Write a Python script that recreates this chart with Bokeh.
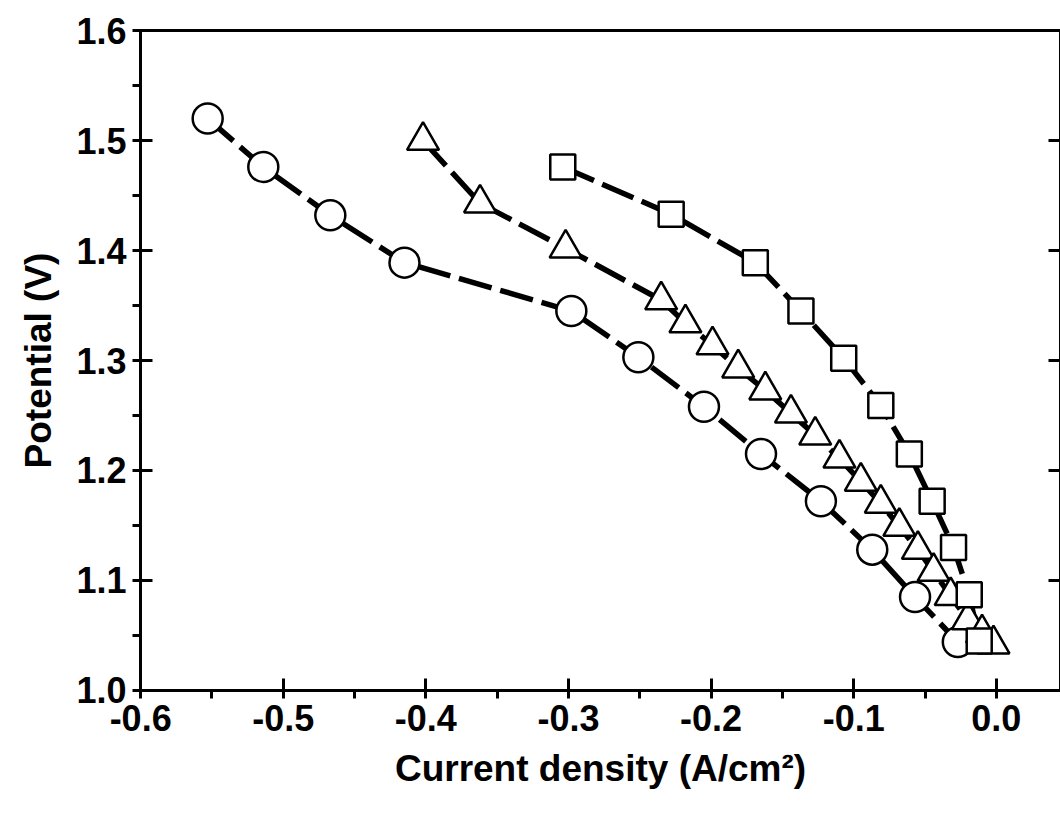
from bokeh.plotting import figure
from bokeh.models import LinearAxis, Range1d, SingleIntervalTicker, PrintfTickFormatter
from bokeh.embed import file_html
from bokeh.resources import INLINE

circ_x = [-0.553, -0.514, -0.467, -0.415, -0.298, -0.251, -0.205, -0.165, -0.123, -0.087, -0.057, -0.027]
circ_y = [1.520, 1.476, 1.432, 1.389, 1.345, 1.303, 1.258, 1.215, 1.172, 1.128, 1.085, 1.044]

tri_x = [-0.402, -0.362, -0.302, -0.235, -0.218, -0.199, -0.181, -0.162, -0.144, -0.127, -0.110,
         -0.095, -0.081, -0.068, -0.055, -0.044, -0.032, -0.020, -0.010, -0.002]
tri_y = [1.500, 1.443, 1.402, 1.355, 1.334, 1.314, 1.293, 1.273, 1.252, 1.232, 1.211,
         1.190, 1.170, 1.149, 1.128, 1.108, 1.086, 1.064, 1.052, 1.042]

sq_x = [-0.304, -0.228, -0.169, -0.137, -0.107, -0.081, -0.061, -0.045, -0.030, -0.019, -0.012]
sq_y = [1.476, 1.433, 1.389, 1.345, 1.302, 1.259, 1.215, 1.172, 1.130, 1.087, 1.045]

FONT = "Liberation Sans"

p = figure(frame_width=920, frame_height=660, output_backend="svg", toolbar_location=None,
           x_range=Range1d(-0.6001, 0.045), y_range=Range1d(0.9999, 1.6001),
           min_border_left=140, min_border_top=30, min_border_bottom=100, min_border_right=0)
p.grid.visible = False
p.outline_line_color = "black"
p.outline_line_width = 3

for xs, ys in [(circ_x, circ_y), (tri_x, tri_y), (sq_x, sq_y)]:
    p.line(xs, ys, line_color="black", line_width=5.5, line_dash="34 9")
p.scatter(circ_x, circ_y, marker="circle", size=30, fill_color="white", line_color="black", line_width=2.5)
p.scatter(tri_x, tri_y, marker="triangle", size=32, fill_color="white", line_color="black", line_width=2.5)
p.scatter(sq_x, sq_y, marker="square", size=25, fill_color="white", line_color="black", line_width=2.5)

right = LinearAxis()
p.add_layout(right, "right")

p.xaxis.axis_label = "Current density (A/cm²)"
p.yaxis[0].axis_label = "Potential (V)"

for ax in p.axis:
    ax.ticker = SingleIntervalTicker(interval=0.1, num_minor_ticks=2)
    ax.formatter = PrintfTickFormatter(format="%.1f")
    ax.axis_line_width = 3
    ax.major_tick_line_width = 3
    ax.minor_tick_line_width = 3
    ax.major_tick_in = 12
    ax.major_tick_out = 0
    ax.minor_tick_in = 0
    ax.minor_tick_out = 8
    ax.axis_label_text_font = FONT
    ax.axis_label_text_font_style = "bold"
    ax.axis_label_text_font_size = "37px"
    ax.axis_label_text_color = "black"
    ax.major_label_text_font = FONT
    ax.major_label_text_font_style = "bold"
    ax.major_label_text_font_size = "36px"
    ax.major_label_text_color = "black"
    ax.major_label_standoff = 6
    ax.axis_label_standoff = 14
right.major_label_text_alpha = 0

open("out.html", "w").write(file_html(p, INLINE))
